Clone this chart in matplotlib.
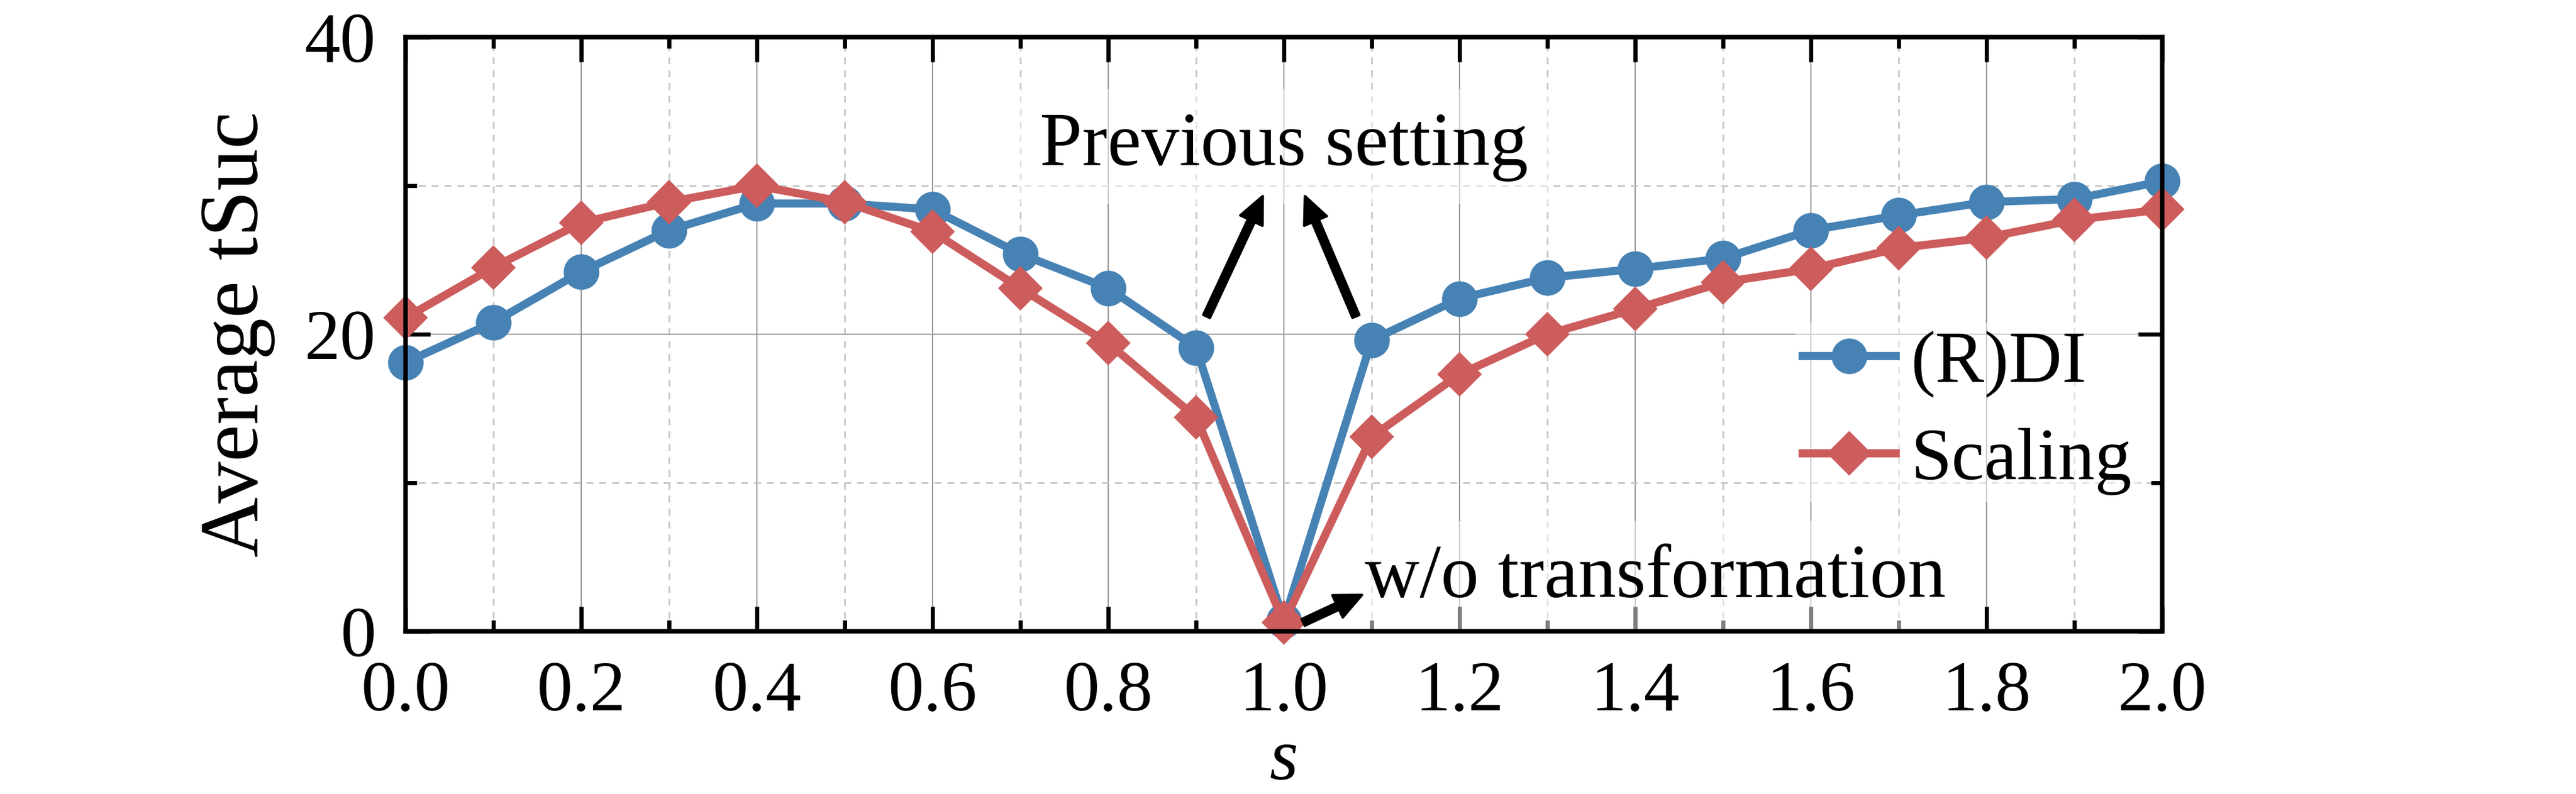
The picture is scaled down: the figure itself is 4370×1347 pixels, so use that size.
import matplotlib
matplotlib.use("Agg")
import matplotlib.pyplot as plt
from matplotlib.ticker import MultipleLocator

plt.rcParams['font.family'] = ['Liberation Serif', 'DejaVu Serif']

# values
s_vals = [0.0, 0.1, 0.2, 0.3, 0.4, 0.5, 0.6, 0.7, 0.8, 0.9, 1.0,
          1.1, 1.2, 1.3, 1.4, 1.5, 1.6, 1.7, 1.8, 1.9, 2.0]
rdi = [18.1, 20.8, 24.2, 27.0, 28.8, 28.8, 28.4, 25.4, 23.1, 19.1, 0.7,
       19.6, 22.4, 23.8, 24.4, 25.1, 27.0, 28.0, 28.9, 29.1, 30.3]
scaling = [21.1, 24.5, 27.5, 28.9, 30.0, 28.9, 26.9, 23.1, 19.4, 14.4, 0.6,
           13.1, 17.3, 20.0, 21.7, 23.5, 24.4, 25.8, 26.5, 27.7, 28.4]

blue = '#4682B4'
red = '#CD5C5C'

fig = plt.figure(figsize=(4370 / 300, 1347 / 300), dpi=300)
ax = fig.add_axes([688 / 4370, 1 - 1071 / 1347, 2980 / 4370, 1008 / 1347])

ax.plot(s_vals, rdi, color=blue, lw=3.3, marker='o', ms=13.5, label='(R)DI', zorder=4, clip_on=False)
ax.plot(s_vals, scaling, color=red, lw=3.3, marker='D', ms=12, label='Scaling', zorder=4, clip_on=False)

ax.set_xlim(0, 2.0)
ax.set_ylim(0, 40)
ax.xaxis.set_major_locator(MultipleLocator(0.2))
ax.xaxis.set_minor_locator(MultipleLocator(0.1))
ax.yaxis.set_major_locator(MultipleLocator(20))
ax.yaxis.set_minor_locator(MultipleLocator(10))
ax.xaxis.set_major_formatter(matplotlib.ticker.FormatStrFormatter('%.1f'))

ax.grid(which='major', color='#999999', lw=0.5, ls='-')
ax.grid(which='minor', color='#c8c8c8', lw=0.7, ls=(0, (4, 3.5)))
ax.set_axisbelow(True)

ax.tick_params(which='both', direction='in', top=True, right=True, width=1.7, labelsize=29)
ax.tick_params(which='major', length=10, pad=12)
ax.tick_params(which='minor', length=4.5)
for sp in ax.spines.values():
    sp.set_linewidth(1.8)
    sp.set_zorder(7)

ax.set_ylabel('Average tSuc', fontsize=34, labelpad=12)
ax.set_xlabel('s', fontsize=30, fontstyle='italic', labelpad=1)

box = dict(boxstyle='square,pad=0.3', fc='white', ec='none', alpha=0.5)
ax.text(1.0, 31.4, 'Previous setting', fontsize=31, ha='center', va='baseline', bbox=box, zorder=5)
arrow = dict(facecolor='black', edgecolor='black', width=3, headwidth=10, headlength=11, shrink=0)
ax.annotate('', xy=(0.976, 29.3), xytext=(0.912, 21.2), arrowprops=arrow, zorder=6)
ax.annotate('', xy=(1.024, 29.3), xytext=(1.082, 21.2), arrowprops=arrow, zorder=6)

ax.text(1.092, 2.3, 'w/o transformation', fontsize=31, ha='left', va='baseline', bbox=box, zorder=5)
ax.annotate('', xy=(1.089, 2.45), xytext=(1.022, 0.6), arrowprops=arrow, zorder=6)

leg = ax.legend(loc='center left', bbox_to_anchor=(0.791, 0.368), borderaxespad=0,
                fontsize=30, frameon=True, framealpha=0.5, edgecolor='none',
                handlelength=1.27, handletextpad=0.2, labelspacing=0.4, borderpad=0.1)

fig.savefig('out.png', dpi=300)
